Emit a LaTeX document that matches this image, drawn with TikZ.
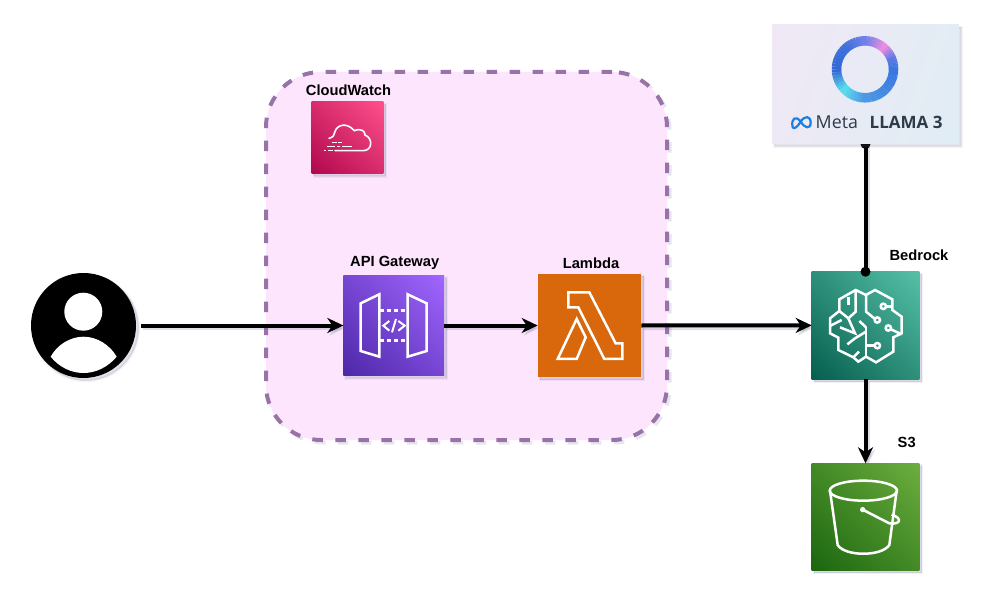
\documentclass[tikz,border=0pt]{standalone}
\usepackage{fontspec}
\setmainfont{Liberation Sans}
\newfontfamily\logofont{Open Sans}
\usetikzlibrary{arrows.meta}
\pgfdeclarelayer{paper}
\pgfdeclarelayer{under}
\pgfsetlayers{paper,under,main}
\definecolor{shadowc}{HTML}{5A6288}
\definecolor{groupfill}{HTML}{FDE5FD}
\definecolor{groupline}{HTML}{9873A8}
\definecolor{lambdac}{HTML}{D9670B}
\definecolor{logotext}{HTML}{2C3A4A}
\newcommand{\mkshade}[3]{%
  \definecolor{tmpa}{HTML}{#2}\definecolor{tmpb}{HTML}{#3}%
  \pgfdeclarehorizontalshading{#1}{100bp}{color(0bp)=(tmpa); color(14.65bp)=(tmpa); color(85.35bp)=(tmpb); color(100bp)=(tmpb)}}
\mkshade{apishade}{4D27A8}{A166FF}
\mkshade{bedshade}{055F4E}{56C0A7}
\mkshade{sthreeshade}{1B660F}{6CAE3E}
\mkshade{cwshade}{B0084D}{FF4F8B}
\mkshade{llamashade}{F1E8F5}{DFEDF4}
\tikzset{
  softshadow/.style={
    preaction={draw=shadowc,fill=shadowc,opacity=.07,line width=3pt,transform canvas={shift={(2.5pt,-2.5pt)}}},
    preaction={draw=shadowc,fill=shadowc,opacity=.10,line width=1pt,transform canvas={shift={(2.5pt,-2.5pt)}}}},
  iconbox/.style={rectangle,inner sep=0pt,outer sep=0pt,softshadow},
  label/.style={font=\bfseries\fontsize{14.7}{16}\selectfont,text=black,inner sep=0pt},
  conn/.style={line width=4pt,draw=black,
    preaction={draw=shadowc,opacity=.2,line width=4.5pt,transform canvas={shift={(2pt,-2.5pt)}}}},
  flow/.style={conn,-{Stealth[length=16pt,width=15pt,inset=5pt]}},
  icon/.style={draw=white,line width=2.5pt,line join=miter},
  iconthin/.style={draw=white,line width=1.6pt},
}
\begin{document}
\begin{tikzpicture}[x=1pt,y=-1pt]
\useasboundingbox (0,0) rectangle (1000,593);
\begin{pgfonlayer}{paper}
\fill[white] (0,0) rectangle (1000,593);
\end{pgfonlayer}

% group
\node[rectangle,fill=groupfill,draw=groupline,line width=4pt,rounded corners=55pt,
  dash pattern=on 10.5pt off 12.5pt,minimum width=401pt,minimum height=368pt,inner sep=0pt,
  preaction={draw=shadowc,opacity=.15,line width=4pt,dash pattern=on 10.5pt off 12.5pt,transform canvas={shift={(2.5pt,-2.5pt)}}}]
  (group) at (466.5,256) {};

% user
\node[circle,fill=black,minimum size=105pt,inner sep=0pt,outer sep=0pt,softshadow] (user) at (83.5,325.5) {};
\fill[white] (83.3,311.7) circle[radius=19];
\fill[white] (50.7,356.7) .. controls (57,345) and (70,336.7) .. (83.5,336.7)
  .. controls (97,336.7) and (110,345) .. (116.7,356.7)
  .. controls (108,367) and (96,373) .. (83.5,373)
  .. controls (71,373) and (59,367) .. cycle;

% service boxes
\node[iconbox,shading=apishade,shading angle=45,minimum width=100.7pt,minimum height=100.7pt] (api) at (393.7,325.5) {};
\node[iconbox,fill=lambdac,minimum width=103.6pt,minimum height=103.3pt] (lambda) at (589.5,325.5) {};
\node[iconbox,shading=bedshade,shading angle=45,minimum width=107.6pt,minimum height=107.3pt] (bedrock) at (865.5,325.4) {};
\node[iconbox,shading=sthreeshade,shading angle=45,minimum width=107.6pt,minimum height=107pt] (s3) at (865.5,516.8) {};
\node[iconbox,shading=cwshade,shading angle=45,minimum width=71.6pt,minimum height=71.7pt] (cw) at (347.5,137.8) {};
\node[iconbox,shading=llamashade,shading angle=-20,minimum width=186.5pt,minimum height=119pt] (llama) at (865.5,84.5) {};

% labels
\node[label] (lcw) at (348.5,90.7) {CloudWatch};
\node[label] (lapi) at (394.7,263) {API Gateway};
\node[label] (llam) at (591,263) {Lambda};
\node[label] (lbed) at (919,255) {Bedrock};
\node[label] (ls3) at (906.7,442.7) {S3};

% API icon
\begin{scope}[shift={(330,245)},scale=1/3]
  \draw[icon] (92,175) -- (148,148) -- (148,335) -- (92,318) -- cycle;
  \draw[icon] (233,148) -- (290,175) -- (290,318) -- (233,335) -- cycle;
  \draw[icon,dash pattern=on 4pt off 3pt] (151,197) -- (233,197);
  \draw[icon,dash pattern=on 4pt off 3pt] (151,286) -- (233,286);
  \draw[icon,line width=2pt] (178,228) -- (160,242) -- (178,257);
  \draw[icon,line width=2pt] (205,228) -- (224,242) -- (205,257);
  \draw[icon,line width=2pt] (198,222) -- (186,262);
\end{scope}

% Lambda icon
\begin{scope}[shift={(525,245)},scale=1/3]
  \draw[icon] (130,142) -- (193,142) -- (272,295) -- (292,295) -- (292,342) -- (238,342) -- (160,187) -- (130,187) -- cycle;
  \draw[icon] (155,222) -- (182,277) -- (155,342) -- (98,342) -- cycle;
\end{scope}

% Bedrock icon
\begin{scope}[shift={(790,240)},scale=1/3]
  \draw[icon] (197,150) -- (148,178) -- (148,213) -- (120,235) -- (120,280) -- (145,293) -- (145,330) -- (190,352) -- (205,365) -- (228,350) -- (258,367) -- (310,335) -- (310,292) -- (335,280) -- (335,230) -- (307,210) -- (307,178) -- (255,150) -- (228,165) -- cycle;
  \draw[icon] (228,165) -- (228,215) -- (254,236);
  \draw[icon] (262,240) circle[radius=8];
  \draw[icon] (280,199) circle[radius=8];
  \draw[icon] (288,199) -- (307,199);
  \draw[icon] (295,264) circle[radius=8];
  \draw[icon] (303,268) -- (335,283);
  \draw[icon] (262,317) circle[radius=8];
  \draw[icon] (228,317) -- (254,317);
  \draw[icon] (228,262) -- (228,350);
  \draw[icon] (208,243) -- (228,262);
  \draw[icon] (197,150) -- (197,215) -- (175,235) -- (148,213);
  \draw[icon] (175,170) -- (175,195);
  \draw[icon] (120,258) -- (155,240);
  \draw[icon] (175,235) -- (195,280) -- (150,262);
  \draw[icon] (195,295) -- (172,313);
  \draw[icon] (228,275) -- (195,295);
  \draw[icon] (190,352) -- (207,335);
\end{scope}

% S3 icon
\begin{scope}[shift={(790,420)},scale=1/3]
  \draw[icon] (220,212) ellipse[x radius=101,y radius=30];
  \draw[icon] (120,212) -- (143,375) .. controls (165,410) and (275,410) .. (298,375) -- (320,212);
  \fill[white] (218,269) circle[radius=8];
  \draw[icon] (218,269) -- (298,310) .. controls (330,315) and (340,295) .. (305,284);
\end{scope}

% CloudWatch icon
\begin{scope}[shift={(255,60)},scale=1/3]
  \draw[iconthin,line cap=round] (222,235) .. controls (235,232) and (238,225) .. (240,215)
    .. controls (245,195) and (275,185) .. (298,212)
    .. controls (320,203) and (330,215) .. (330,225)
    .. controls (355,235) and (352,272) .. (325,272) -- (240,272);
  \draw[iconthin] (232,247) -- (245,247) (250,247) -- (260,247);
  \draw[iconthin] (215,260) -- (240,260) (246,260) -- (256,260) (262,260) -- (290,260);
  \draw[iconthin] (207,272) -- (213,272) (220,272) -- (234,272);
\end{scope}

% Llama artwork
\begin{scope}[shift={(865,69.3)},x=1pt,y=1pt]
  \foreach \a/\b/\ca/\cb in {
    0/20/3A78E0/5A78E4, 20/50/5A78E4/E88CE0, 50/90/E88CE0/6F80E8,
    90/135/6F80E8/3C70DC, 135/180/3C70DC/3468D4, 180/225/3468D4/58DCEC,
    225/270/58DCEC/4C98E6, 270/360/4C98E6/3A78E0}{
    \foreach \t in {0,...,7}{
      \pgfmathsetmacro{\st}{\a+(\b-\a)*\t/8}
      \pgfmathsetmacro{\dl}{(\b-\a)/8+0.6}
      \pgfmathsetmacro{\mx}{\t*100/7}
      \definecolor{ca}{HTML}{\ca}\definecolor{cb}{HTML}{\cb}
      \draw[cb!\mx!ca,line width=9.5pt] (\st:28.5) arc[start angle=\st,delta angle=\dl,radius=28.5];
    }
  }
\end{scope}
\begin{scope}[shift={(760,10)},scale=1/3]
  \draw[draw={rgb,255:red,30;green,125;blue,225},line width=2.2pt,line cap=round]
    (98,352) .. controls (92,325) and (108,315) .. (122,335)
    .. controls (135,356) and (152,358) .. (152,338)
    .. controls (152,318) and (135,315) .. (122,335)
    .. controls (112,352) and (102,358) .. (98,352);
\end{scope}
\node[font=\logofont\fontsize{17.8}{19}\selectfont,text=logotext,inner sep=0pt,anchor=base west] (meta) at (815.5,128.3) {Meta};
\node[font=\logofont\bfseries\fontsize{17}{19}\selectfont,text=logotext,inner sep=0pt,anchor=base west] (llamatxt) at (869.5,128.3) {LLAMA 3};

% connectors
\draw[flow,shorten <=5pt] (user.east) -- (api.west);
\draw[flow] (api.east) -- (lambda.west);
\draw[flow] (lambda.east) -- (bedrock.west);
\draw[flow] (bedrock.south) -- (s3.north);
\begin{pgfonlayer}{under}
  \draw[conn,shorten <=-5pt] (llama.south) -- (bedrock.north);
  \fill[black] (llama.south) circle[radius=5];
\end{pgfonlayer}
\fill[black] (bedrock.north) circle[radius=5];
\end{tikzpicture}
\end{document}
